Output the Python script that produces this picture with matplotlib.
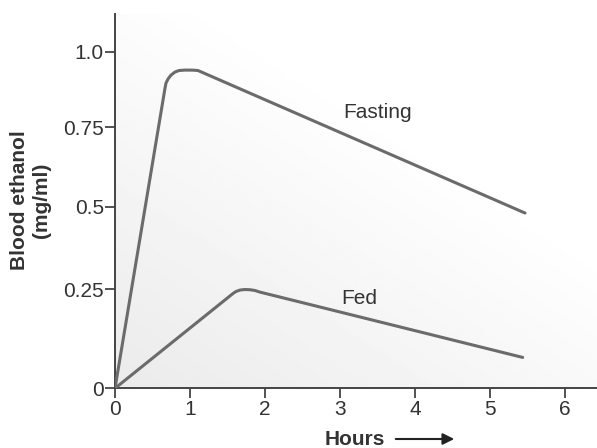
import numpy as np
import matplotlib
matplotlib.use("Agg")
import matplotlib.pyplot as plt
from matplotlib.scale import FuncScale

plt.rcParams['font.family'] = ['Liberation Sans', 'DejaVu Sans']

# data (hours, mg/ml)
fasting_t = [0, 0.667, 0.680, 0.707, 0.747, 0.800, 0.853, 0.933, 1.04, 1.107, 5.467]
fasting_c = [0, 0.880, 0.8965, 0.910, 0.923, 0.933, 0.938, 0.9395, 0.9393, 0.938, 0.481]
fed_t = [0, 1.577, 1.613, 1.667, 1.733, 1.800, 1.867, 1.933, 5.436]
fed_c = [0, 0.240, 0.2444, 0.2482, 0.2495, 0.249, 0.247, 0.243, 0.078]

xticks = [0, 1, 2, 3, 4, 5, 6]
yticks = [0, 0.25, 0.5, 0.75, 1.0]
ytick_labels = ["0", "0.25", "0.5", "0.75", "1.0"]

# the drawing's y axis is not evenly spaced: piecewise linear scale
knot_v = [-1, 0, 0.25, 0.5, 0.75, 1.0, 2.0]
knot_h = [-396, 0, 99, 181.6, 261, 336.6, 639]


def fwd(v):
    return np.interp(v, knot_v, knot_h)


def inv(h):
    return np.interp(h, knot_h, knot_v)


line_col = "#6b6b6b"
axis_col = "#444444"
text_col = "#333333"

fig = plt.figure(figsize=(5.97, 4.48), dpi=100)
ax = fig.add_axes([115 / 597, 1 - 388.3 / 448, 1 - 115 / 597, (388.3 - 14) / 448])
ax.set_yscale(FuncScale(ax.yaxis, (fwd, inv)))

# soft grey background gradient
gx, gy = np.meshgrid(np.linspace(0, 1, 200), np.linspace(0, 1, 200))
grad = 0.92 + 0.08 * np.clip((gx * 0.9 + gy * 1.1) / 1.3, 0, 1)
ax.imshow(grad, cmap="gray", vmin=0, vmax=1, origin="lower", extent=(0, 1, 0, 1),
          transform=ax.transAxes, aspect="auto", zorder=0)

ax.plot(fasting_t, fasting_c, color=line_col, lw=2.2, solid_joinstyle="round",
        solid_capstyle="round", zorder=3)
ax.plot(fed_t, fed_c, color=line_col, lw=2.2, solid_joinstyle="round",
        solid_capstyle="round", zorder=3)

ax.text(3.044, 0.798, "Fasting", fontsize=15, color=text_col, ha="left", va="center")
ax.text(3.023, 0.228, "Fed", fontsize=15, color=text_col, ha="left", va="center")

ax.set_xlim(0, 6.427)
ax.set_ylim(0, 1.125)
ax.set_xticks(xticks)
ax.set_yticks(yticks)
ax.set_yticklabels(ytick_labels)
ax.minorticks_off()
ax.tick_params(axis="both", direction="out", length=7, width=1.3, color=axis_col,
               labelsize=15, labelcolor=text_col)
ax.tick_params(axis="y", pad=1.0)
ax.tick_params(axis="x", pad=1.5)
for s in ["top", "right"]:
    ax.spines[s].set_visible(False)
for s in ["left", "bottom"]:
    ax.spines[s].set_color(axis_col)
    ax.spines[s].set_linewidth(1.4)

fig.text(31 / 597, 1 - 200 / 448, "Blood ethanol\n(mg/ml)", rotation=90, ha="center",
         va="center", multialignment="center", fontsize=15, fontweight="bold",
         color=text_col, linespacing=1.2)
fig.text(325 / 597, 1 - 439 / 448, "Hours", ha="left", va="center", fontsize=15,
         fontweight="bold", color=text_col)
fig.add_artist(matplotlib.patches.FancyArrowPatch(
    (393 / 597, 1 - 439 / 448), (457 / 597, 1 - 439 / 448), transform=fig.transFigure,
    arrowstyle="-|>", mutation_scale=17, lw=1.5, color="#222222"))

fig.savefig("out.png", dpi=100)
